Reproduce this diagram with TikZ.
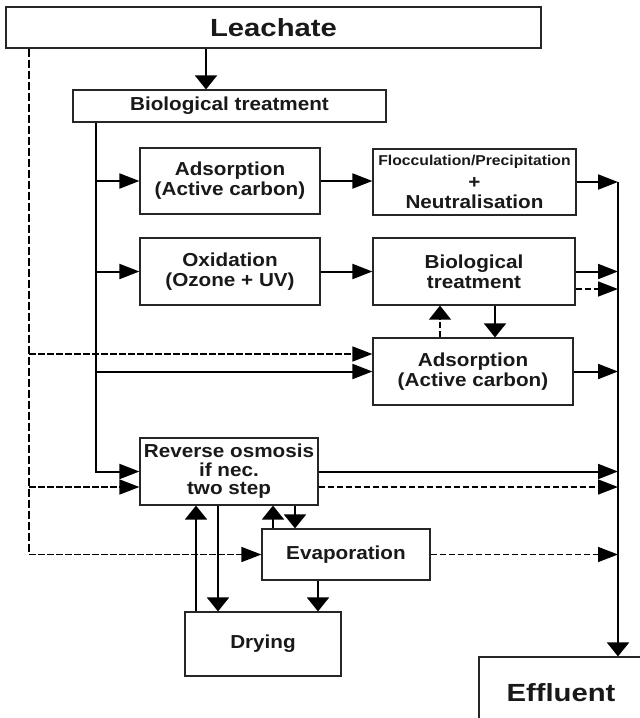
\documentclass[tikz,border=0pt]{standalone}
\usepackage{fontspec}
\setmainfont{Liberation Sans}[FakeStretch=1.1]
\newfontfamily\bigfont{Liberation Sans}[FakeStretch=1.18]
\usetikzlibrary{arrows.meta,calc}
\begin{document}
\begin{tikzpicture}[x=1pt,y=-1pt,
  box/.style={draw=black!85, line width=1.2pt, inner sep=0pt, align=center,
    text=black!90, font=\bfseries\fontsize{18.8}{20}\selectfont},
  bigtext/.style={font=\bigfont\bfseries\fontsize{24.8}{27}\selectfont},
  lbl/.style={inner sep=0pt, text=black!90, font=\bfseries\fontsize{18.8}{20}\selectfont},
  conn/.style={line width=2pt, draw=black},
  harr/.style={conn, -{Triangle[length=20pt,width=15pt]}},
  varr/.style={conn, -{Triangle[length=14pt,width=22pt]}},
  dline/.style={line width=1.5pt, draw=black, dash pattern=on 6.5pt off 2.5pt},
  vdline/.style={line width=2pt, draw=black, dash pattern=on 8pt off 3pt},
  dharr/.style={dline, -{Triangle[length=20pt,width=15pt]}},
  dvarr/.style={dline, -{Triangle[length=14pt,width=22pt]}}
]
\clip (0,0) rectangle (640,718);
\fill[white] (0,0) rectangle (640,718);

% boxes
\node[box, bigtext, minimum width=535pt, minimum height=41pt] (leach) at (273.5,27.5) {Leachate};
\node[box, minimum width=313pt, minimum height=32pt] (bio1) at (229.5,106) {Biological treatment};
\node[box, minimum width=180pt, minimum height=66pt] (ads1) at (230,181) {Adsorption\\(Active carbon)};
\node[box, minimum width=203pt, minimum height=66pt] (floc) at (474.5,182) {};
\node[lbl, font=\bfseries\fontsize{14.3}{15}\selectfont] (flocA) at (474.5,162) {Flocculation/Precipitation};
\node[lbl] (flocB) at (474.5,183) {+};
\node[lbl] (flocC) at (474.5,202) {Neutralisation};
\node[box, minimum width=180pt, minimum height=67pt] (ox) at (230,271.5) {Oxidation\\(Ozone + UV)};
\node[box, minimum width=202pt, minimum height=67pt] (bio2) at (474,271.5) {Biological\\treatment};
\node[box, minimum width=200pt, minimum height=67pt] (ads2) at (473,371.5) {Adsorption\\(Active carbon)};
\node[box, minimum width=178pt, minimum height=67pt, font=\bfseries\fontsize{18.8}{18.5}\selectfont] (ro) at (229,471.5) {Reverse osmosis\\if nec.\\two step};
\node[box, minimum width=168pt, minimum height=51pt] (evap) at (346,554.5) {Evaporation};
\node[box, minimum width=156pt, minimum height=64pt] (dry) at (263,644) {Drying};
\node[box, bigtext, minimum width=164pt, minimum height=72pt] (eff) at (561,693) {Effluent};

% reference x positions
\coordinate (cLB) at (206,0);
\coordinate (trunk) at (96,0);
\coordinate (dl) at (29,0);
\coordinate (rl) at (618,0);
\coordinate (xUpB) at (440,0);
\coordinate (xDnB) at (495,0);
\coordinate (xUpD) at (196,0);
\coordinate (xDnD) at (218,0);
\coordinate (xUpE) at (273,0);
\coordinate (xDnE) at (295,0);
\coordinate (xED) at (318,0);
\coordinate (a2in) at ([yshift=17.5pt]ads2.west);
\coordinate (roin) at ([yshift=-15.5pt]ro.west);
\coordinate (b2d) at ([yshift=-17.5pt]bio2.east);

% solid connectors
\draw[varr] (leach.south -| cLB) -- (bio1.north -| cLB);
\draw[harr] (bio1.south -| trunk) |- (ro.west);
\draw[harr] (trunk |- ads1.west) -- (ads1.west);
\draw[harr] (trunk |- ox.west) -- (ox.west);
\draw[harr] (trunk |- ads2.west) -- (ads2.west);
\draw[harr] (ads1.east) -- (floc.west |- ads1.east);
\draw[harr] (floc.east) -- (rl |- floc.east);
\draw[varr] (rl |- floc.east) -- (eff.north -| rl);
\draw[harr] (ox.east) -- (bio2.west);
\draw[harr] (bio2.east) -- (rl |- bio2.east);
\draw[varr] (bio2.south -| xDnB) -- (ads2.north -| xDnB);
\draw[harr] (ads2.east) -- (rl |- ads2.east);
\draw[harr] (ro.east) -- (rl |- ro.east);
\draw[varr] (dry.north -| xUpD) -- (ro.south -| xUpD);
\draw[varr] (ro.south -| xDnD) -- (dry.north -| xDnD);
\draw[varr] (evap.north -| xUpE) -- (ro.south -| xUpE);
\draw[varr] (ro.south -| xDnE) -- (evap.north -| xDnE);
\draw[varr] (evap.south -| xED) -- (dry.north -| xED);

% dashed connectors
\coordinate (dlbend) at (dl |- evap.west);
\draw[vdline] (leach.south -| dl) -- (dlbend);
\draw[dharr] (dlbend) -- (evap.west);
\draw[dharr] (dl |- a2in) -- (a2in);
\draw[dharr] (dl |- roin) -- (roin);
\draw[dharr] (b2d) -- (rl |- b2d);
\draw[dvarr] (ads2.north -| xUpB) -- (bio2.south -| xUpB);
\draw[dharr] (roin -| ro.east) -- (rl |- roin);
\draw[dharr] (evap.east) -- (rl |- evap.east);
\end{tikzpicture}
\end{document}
